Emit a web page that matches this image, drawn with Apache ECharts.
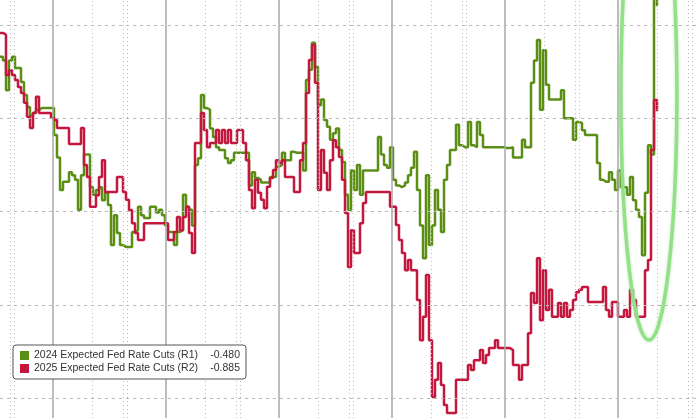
<!DOCTYPE html>
<html>
<head>
<meta charset="utf-8">
<script src="https://cdn.jsdelivr.net/npm/echarts@6/dist/echarts.min.js"></script>
<style>
  html, body { margin: 0; padding: 0; background: #fff; }
  #chart { width: 700px; height: 418px; }
</style>
</head>
<body>
<div id="chart"></div>
<script>
// one sample per session
const firstSession = 20
const sessionsPerPeriod = 113 / 3
const minorOffsets = [13, 23.33, 24.67]
const levels2024 = [-0.5, -0.6, -0.7, -0.8, -0.9]

const names = ['2024 Expected Fed Rate Cuts (R1)', '2025 Expected Fed Rate Cuts (R2)']

const cuts2024 = [
  -0.534, -0.538, -0.570, -0.538, -0.534, -0.546, -0.546, -0.561, -0.575, -0.588,
  -0.597, -0.594, -0.591, -0.589, -0.589, -0.589, -0.589, -0.589, -0.618, -0.642,
  -0.677, -0.668, -0.668, -0.658, -0.661, -0.666, -0.698, -0.661, -0.639, -0.639,
  -0.674, -0.682, -0.677, -0.674, -0.688, -0.680, -0.693, -0.736, -0.704, -0.723,
  -0.736, -0.738, -0.738, -0.738, -0.722, -0.720, -0.695, -0.704, -0.707, -0.707,
  -0.695, -0.695, -0.701, -0.698, -0.704, -0.715, -0.722, -0.722, -0.736, -0.722,
  -0.720, -0.682, -0.695, -0.698, -0.715, -0.650, -0.643, -0.575, -0.589, -0.591,
  -0.611, -0.620, -0.631, -0.634, -0.634, -0.643, -0.648, -0.645, -0.637, -0.637,
  -0.637, -0.637, -0.637, -0.672, -0.658, -0.664, -0.666, -0.669, -0.669, -0.669,
  -0.663, -0.663, -0.652, -0.650, -0.637, -0.645, -0.645, -0.636, -0.637, -0.637,
  -0.637, -0.656, -0.559, -0.548, -0.519, -0.545, -0.586, -0.580, -0.602, -0.609,
  -0.623, -0.616, -0.611, -0.634, -0.647, -0.682, -0.698, -0.656, -0.677, -0.650,
  -0.682, -0.656, -0.656, -0.656, -0.656, -0.656, -0.620, -0.639, -0.650, -0.653,
  -0.631, -0.666, -0.672, -0.674, -0.672, -0.669, -0.661, -0.653, -0.636, -0.677,
  -0.715, -0.750, -0.661, -0.736, -0.715, -0.677, -0.698, -0.722, -0.666, -0.650,
  -0.634, -0.634, -0.607, -0.629, -0.631, -0.631, -0.604, -0.629, -0.631, -0.604,
  -0.618, -0.631, -0.631, -0.631, -0.631, -0.631, -0.631, -0.631, -0.632, -0.632,
  -0.631, -0.642, -0.642, -0.642, -0.623, -0.631, -0.631, -0.562, -0.538, -0.516,
  -0.591, -0.527, -0.564, -0.580, -0.580, -0.580, -0.580, -0.570, -0.600, -0.600,
  -0.600, -0.623, -0.604, -0.605, -0.613, -0.618, -0.618, -0.618, -0.618, -0.648,
  -0.666, -0.668, -0.668, -0.658, -0.666, -0.677, -0.656, -0.674, -0.674, -0.682,
  -0.663, -0.688, -0.698, -0.706, -0.747, -0.680, -0.629, -0.639, -0.471, -0.480
]

const cuts2025 = [
  -0.717, -0.721, -0.807, -0.797, -0.807, -0.818, -0.833, -0.846, -0.867, -0.897,
  -0.921, -0.889, -0.854, -0.889, -0.889, -0.889, -0.889, -0.899, -0.904, -0.921,
  -0.921, -0.921, -0.921, -0.955, -0.955, -0.955, -0.955, -0.921, -1.000, -1.026,
  -1.090, -1.090, -1.065, -1.026, -0.990, -1.058, -1.058, -1.058, -1.058, -1.026,
  -1.026, -1.058, -1.075, -1.097, -1.125, -1.146, -1.161, -1.161, -1.125, -1.125,
  -1.125, -1.125, -1.125, -1.125, -1.125, -1.125, -1.161, -1.161, -1.144, -1.112,
  -1.140, -1.112, -1.090, -1.146, -1.189, -0.953, -0.953, -0.889, -0.925, -0.962,
  -0.953, -0.953, -0.925, -0.953, -0.925, -0.953, -0.925, -0.953, -0.953, -0.925,
  -0.925, -0.953, -0.990, -1.054, -1.093, -1.032, -1.060, -1.075, -1.093, -1.047,
  -1.028, -1.011, -0.990, -0.996, -0.990, -1.026, -1.026, -1.026, -1.058, -1.058,
  -0.990, -0.953, -0.846, -0.775, -0.743, -0.824, -1.054, -0.968, -1.017, -1.054,
  -0.990, -0.947, -0.962, -0.983, -1.032, -1.103, -1.219, -1.140, -1.189, -1.189,
  -1.125, -1.082, -1.058, -1.058, -1.058, -1.058, -1.058, -1.058, -1.058, -1.058,
  -1.090, -1.090, -1.129, -1.161, -1.189, -1.226, -1.204, -1.226, -1.226, -1.290,
  -1.376, -1.326, -1.236, -1.376, -1.498, -1.461, -1.425, -1.472, -1.515, -1.532,
  -1.532, -1.532, -1.461, -1.461, -1.461, -1.461, -1.429, -1.440, -1.419, -1.419,
  -1.397, -1.425, -1.408, -1.393, -1.393, -1.376, -1.393, -1.393, -1.393, -1.393,
  -1.397, -1.429, -1.429, -1.461, -1.429, -1.429, -1.361, -1.275, -1.296, -1.200,
  -1.333, -1.226, -1.311, -1.268, -1.326, -1.326, -1.296, -1.326, -1.296, -1.326,
  -1.311, -1.290, -1.273, -1.268, -1.262, -1.262, -1.294, -1.294, -1.294, -1.294,
  -1.294, -1.262, -1.311, -1.326, -1.294, -1.294, -1.326, -1.326, -1.311, -1.326,
  -1.268, -1.290, -1.326, -1.326, -1.326, -1.226, -1.204, -0.968, -0.861, -0.885
]

const GREEN = '#5a8e14'
const RED = '#c3173e'
const FONT = 'Liberation Sans, Arial, sans-serif'

// visible window of each axis (the picture is a crop of a wider chart)
const W = 700
const H = 418
const xMin = firstSession
const xMax = firstSession + W / 3
const r1PerPx = 0.1 / 93.25
const r1Max = -0.5 + 25 * r1PerPx
const r1Min = r1Max - H * r1PerPx
const r2PerPx = 0.2 / 93.25
const r2Max = -0.7 + 25 * r2PerPx
const r2Min = r2Max - H * r2PerPx

const toPairs = arr => arr.map((v, i) => [firstSession + i, v])
const lastValue = {}
lastValue[names[0]] = cuts2024[cuts2024.length - 1].toFixed(3)
lastValue[names[1]] = cuts2025[cuts2025.length - 1].toFixed(3)

// grid lines: solid at period starts, dotted inside, dashed levels
const majorStyle = { color: '#a8a8a8', width: 1.5, type: 'solid' }
const minorStyle = { color: '#bcbcbc', width: 1, type: [1, 3] }
const levelStyle = { color: '#b8b8b8', width: 1, type: [3, 4] }
const gridLines = []
for (let p = 0; p < 8; p++) {
  const start = p * sessionsPerPeriod
  if (start > xMin && start < xMax) gridLines.push({ xAxis: start, lineStyle: majorStyle })
  minorOffsets.forEach(o => {
    const x = start + o
    if (x > xMin && x < xMax) gridLines.push({ xAxis: x, lineStyle: minorStyle })
  })
}
levels2024.forEach(v => gridLines.push({ yAxis: v, lineStyle: levelStyle }))

const hidden = { axisLine: { show: false }, axisTick: { show: false }, axisLabel: { show: false }, splitLine: { show: false } }

const chart = echarts.init(document.getElementById('chart'), null, { renderer: 'canvas' })

chart.setOption({
  animation: false,
  backgroundColor: '#fff',
  grid: { left: 0, right: 0, top: 0, bottom: 0 },
  legend: {
    data: names,
    orient: 'vertical',
    left: 13,
    top: 345,
    icon: 'rect',
    itemWidth: 9,
    itemHeight: 9,
    itemGap: 2,
    padding: [5, 6, 5, 7],
    backgroundColor: '#fff',
    borderColor: '#555',
    borderWidth: 1,
    borderRadius: 3,
    selectedMode: false,
    z: 20,
    formatter: name => '{n|' + name + '}{v|' + lastValue[name] + '}',
    textStyle: {
      fontFamily: FONT,
      fontSize: 10.5,
      color: '#333',
      rich: {
        n: { width: 172, fontSize: 10.5, lineHeight: 13, color: '#333', fontFamily: FONT },
        v: { width: 34, align: 'right', fontSize: 10.5, lineHeight: 13, color: '#333', fontFamily: FONT }
      }
    }
  },
  xAxis: Object.assign({ type: 'value', min: xMin, max: xMax }, hidden),
  yAxis: [
    Object.assign({ type: 'value', min: r1Min, max: r1Max }, hidden),
    Object.assign({ type: 'value', min: r2Min, max: r2Max }, hidden)
  ],
  series: [
    {
      name: 'grid',
      type: 'line',
      data: [],
      yAxisIndex: 0,
      z: 1,
      silent: true,
      markLine: {
        silent: true,
        symbol: 'none',
        label: { show: false },
        animation: false,
        data: gridLines
      }
    },
    {
      name: names[0],
      type: 'line',
      step: 'end',
      yAxisIndex: 0,
      data: toPairs(cuts2024),
      showSymbol: false,
      lineStyle: { color: GREEN, width: 2.5 },
      itemStyle: { color: GREEN },
      z: 3
    },
    {
      name: names[1],
      type: 'line',
      step: 'end',
      yAxisIndex: 1,
      data: toPairs(cuts2025),
      showSymbol: false,
      lineStyle: { color: RED, width: 2.5 },
      itemStyle: { color: RED },
      z: 4
    }
  ]
})

// highlight ring round the latest move
const lastSession = firstSession + cuts2024.length - 1
const centre = chart.convertToPixel({ xAxisIndex: 0, yAxisIndex: 0 }, [lastSession - 2.7, -0.575])
chart.setOption({
  graphic: [{
    type: 'ellipse',
    z: 10,
    silent: true,
    shape: { cx: centre[0], cy: centre[1], rx: 28, ry: 245 },
    style: { fill: 'none', stroke: '#93e088', lineWidth: 3.5, shadowBlur: 3, shadowColor: 'rgba(140,220,130,0.6)' }
  }]
})
</script>
</body>
</html>
